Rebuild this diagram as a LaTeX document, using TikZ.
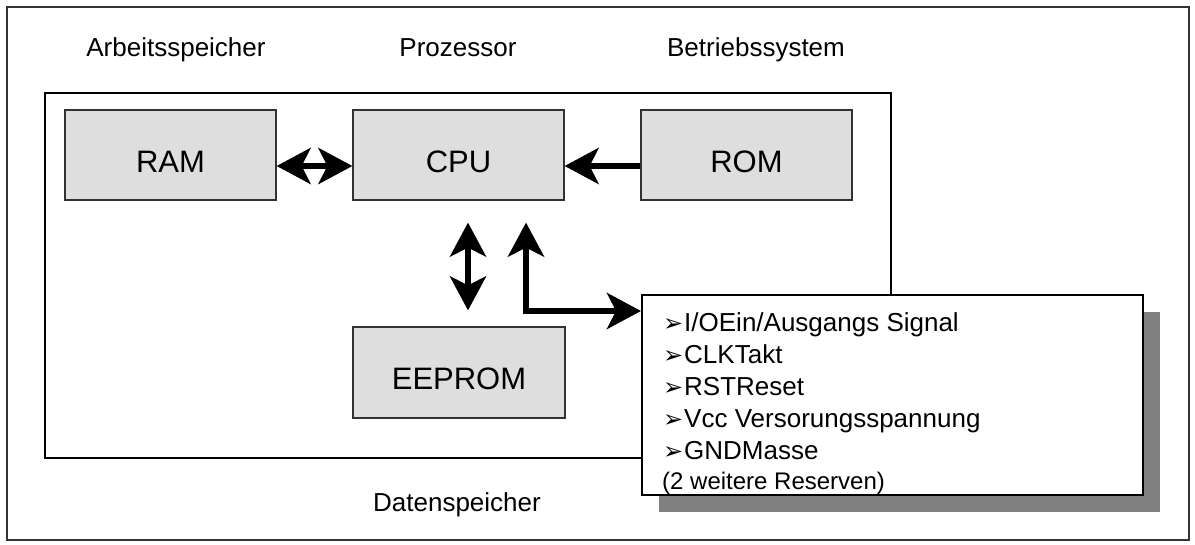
\documentclass[tikz,border=0pt]{standalone}
\usepackage{fontspec}
\setmainfont{Liberation Sans}
\newfontfamily\bulletfont{DejaVu Sans}
\usepackage{tikz}
\usetikzlibrary{arrows.meta,shadows}

\newcommand{\sigbullet}{\makebox[21pt][l]{\bulletfont\fontsize{24}{24}\selectfont ➢}}

\begin{document}
\begin{tikzpicture}[x=1pt, y=-1pt,
        >={Stealth[length=34pt, width=36pt, inset=9pt]},
        unit/.style={draw=black!80, line width=1.2pt, fill=black!13, minimum width=211pt, minimum height=90pt, text height=34pt, text depth=0pt, inner sep=0pt, font=\fontsize{31}{36}\selectfont},
        caption/.style={anchor=base, inner sep=0pt, font=\fontsize{26}{30}\selectfont},
        sig/.style={anchor=base west, inner sep=0pt, font=\fontsize{26}{32}\selectfont},
        infobox/.style={draw, line width=1.5pt, fill=white, minimum width=501pt, minimum height=200pt, inner sep=0pt, drop shadow={shadow xshift=17pt, shadow yshift=-17pt, fill=black!50, opacity=1}},
        fat/.style={line width=6pt}]
        \useasboundingbox (0,0) rectangle (1195,544);

        % frame
        \draw[line width=1.2pt, black!80] (7,7) rectangle (1189,540);

        % board
        \draw[line width=2pt] (45,93) rectangle (891,458);

        % units
        \node[unit] (ram) at (170.5,155) {RAM};
        \node[unit] (cpu) at (458.5,155) {CPU};
        \node[unit] (rom) at (746.5,155) {ROM};
        \node[unit, minimum width=212pt, minimum height=91pt] (eeprom) at (459,372.5) {EEPROM};

        % captions
        \node[caption] (lram) at (176,56) {Arbeitsspeicher};
        \node[caption] (lcpu) at (458,56) {Prozessor};
        \node[caption] (lrom) at (756,56) {Betriebssystem};
        \node[caption] (leeprom) at (457,511) {Datenspeicher};

        % signals
        \node[infobox, anchor=north west] (info) at (641,294) {};
        \foreach \t [count=\i] in {I/OEin/Ausgangs Signal, CLKTakt, RSTReset, Vcc Versorungsspannung, GNDMasse}
            \node[sig] (sig\i) at (663, {299+32*\i}) {\sigbullet\t};
        \node[sig, font=\fontsize{24}{28}\selectfont] (sig6) at (662,489) {(2 weitere Reserven)};

        % buses
        \draw[fat, <->] ([yshift=-11pt]ram.east) -- ([yshift=-11pt]cpu.west);
        \draw[fat, ->] ([yshift=-11pt]rom.west) -- ([yshift=-11pt]cpu.east);
        \draw[fat, <->] ([xshift=9.5pt, yshift=-22pt]cpu.south) -- ([xshift=9pt, yshift=16pt]eeprom.north);
        \draw[fat, <->] ([xshift=67.5pt, yshift=-22pt]cpu.south) |- ([yshift=-17pt]info.north west);
    \end{tikzpicture}
\end{document}
